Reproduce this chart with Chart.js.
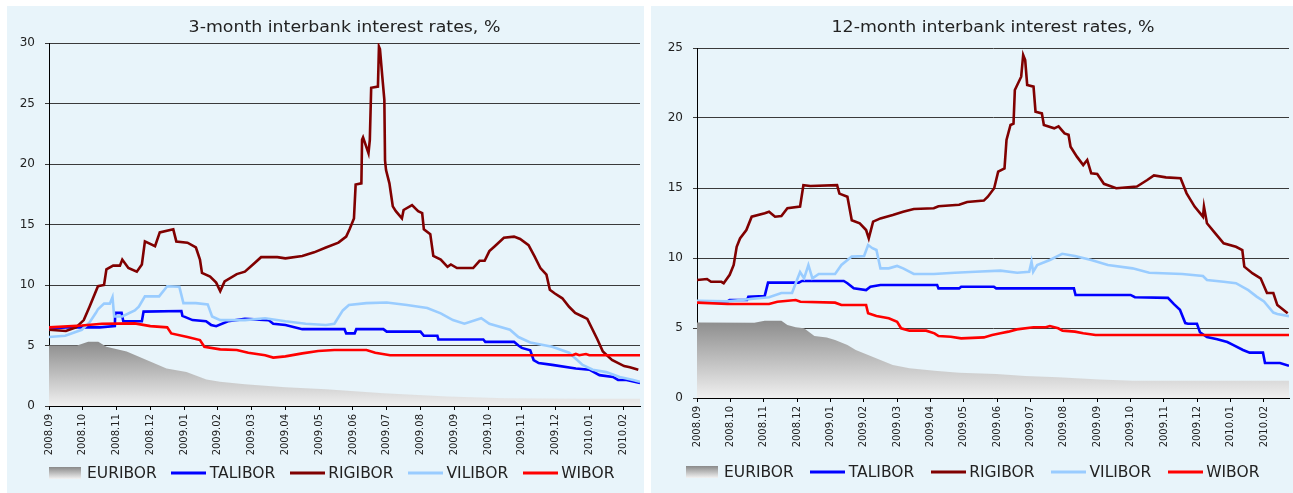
<!DOCTYPE html>
<html>
<head>
<meta charset="utf-8">
<script src="https://cdn.jsdelivr.net/npm/chart.js@4.4.1/dist/chart.umd.min.js"></script>
<style>
  body { margin: 0; background: #fff; width: 1293px; height: 493px; position: relative; overflow: hidden; }
  .panel { position: absolute; top: 6px; height: 487px; background: #e8f4fa; }
  #p1 { left: 7px; width: 637px; }
  #p2 { left: 651px; width: 642px; }
  canvas { display: block; }
  .legend { position: absolute; height: 20px; display: flex; align-items: center; white-space: nowrap;
            font: 15.5px "DejaVu Sans"; color: #222; }
  .legend .item { display: flex; align-items: center; }
</style>
</head>
<body>
<div class="panel" id="p1"><canvas id="rates3m" width="637" height="487"></canvas></div>
<div class="panel" id="p2"><canvas id="rates12m" width="642" height="487"></canvas></div>
<script>
// x axis tick labels (month index 0 = 2008.09)
const months = ["2008.09", "2008.10", "2008.11", "2008.12", "2009.01", "2009.02", "2009.03", "2009.04", "2009.05",
  "2009.06", "2009.07", "2009.08", "2009.09", "2009.10", "2009.11", "2009.12", "2010.01", "2010.02"];
const seriesNames = ["EURIBOR", "TALIBOR", "RIGIBOR", "VILIBOR", "WIBOR"];
const seriesColors = [null, "#0000ff", "#800000", "#99ccff", "#ff0000"];

// 3-month rates, [months since 2008.09, %]
const euribor3m = [[0, 5.0], [0.83, 5.0], [1.16, 5.3], [1.46, 5.3], [1.7, 4.9], [2.3, 4.5], [2.89, 3.8], [3.48, 3.1],
  [4.07, 2.8], [4.66, 2.2], [5.06, 2.0], [5.8, 1.8], [7.0, 1.55], [8.2, 1.38], [9.9, 1.05], [11.8, 0.78], [13.5, 0.65],
  [15.7, 0.6], [17.5, 0.6]];
const talibor3m = [[0, 6.4], [0.5, 6.5], [1.5, 6.5], [1.95, 6.6], [1.96, 7.7], [2.15, 7.7], [2.2, 7.0], [2.75, 7.0],
  [2.8, 7.8], [3.92, 7.85], [3.95, 7.45], [4.25, 7.1], [4.65, 7.0], [4.8, 6.7], [4.95, 6.6], [5.3, 7.0], [5.8, 7.2],
  [6.5, 7.1], [6.64, 6.8], [7.0, 6.7], [7.5, 6.35], [8.75, 6.35], [8.8, 6.0], [9.05, 6.0], [9.1, 6.35], [9.9, 6.35],
  [10.0, 6.15], [11.0, 6.15], [11.1, 5.8], [11.5, 5.8], [11.53, 5.5], [12.86, 5.5], [12.92, 5.3], [13.77, 5.3],
  [13.9, 5.0], [14.0, 4.8], [14.25, 4.6], [14.35, 3.8], [14.5, 3.55], [14.9, 3.4], [15.6, 3.1], [16.0, 3.0],
  [16.3, 2.55], [16.7, 2.4], [16.85, 2.15], [17.1, 2.15], [17.5, 1.9]];
const rigibor3m = [[0, 6.3], [0.5, 6.2], [0.8, 6.5], [1.03, 7.1], [1.2, 8.2], [1.45, 9.9], [1.63, 10.0], [1.7, 11.3],
  [1.9, 11.6], [2.1, 11.6], [2.17, 12.1], [2.35, 11.4], [2.6, 11.1], [2.75, 11.7], [2.84, 13.6], [3.14, 13.2],
  [3.28, 14.35], [3.68, 14.6], [3.77, 13.6], [4.1, 13.5], [4.35, 13.1], [4.47, 12.1], [4.53, 11.0], [4.77, 10.7],
  [4.95, 10.2], [5.07, 9.5], [5.2, 10.3], [5.56, 10.9], [5.8, 11.1], [6.04, 11.7], [6.28, 12.3], [6.76, 12.3],
  [7.0, 12.2], [7.5, 12.4], [7.85, 12.7], [8.2, 13.1], [8.57, 13.5], [8.8, 14.0], [8.9, 14.6], [9.03, 15.5],
  [9.08, 18.3], [9.25, 18.4], [9.27, 22.0], [9.3, 22.2], [9.46, 20.9], [9.5, 22.0], [9.54, 26.3], [9.74, 26.4],
  [9.77, 29.7], [9.8, 29.5], [9.87, 27.2], [9.93, 25.3], [9.95, 20.3], [9.98, 19.5], [10.08, 18.4], [10.18, 16.5],
  [10.27, 16.1], [10.45, 15.5], [10.5, 16.2], [10.75, 16.6], [10.93, 16.1], [11.05, 15.95], [11.1, 14.6],
  [11.29, 14.2], [11.38, 12.4], [11.6, 12.1], [11.8, 11.5], [11.9, 11.7], [12.08, 11.4], [12.56, 11.4], [12.75, 12.0],
  [12.9, 12.0], [13.04, 12.8], [13.2, 13.2], [13.47, 13.9], [13.77, 14.0], [13.95, 13.8], [14.2, 13.3], [14.37, 12.4],
  [14.55, 11.4], [14.73, 10.85], [14.83, 9.6], [14.98, 9.3], [15.2, 8.9], [15.4, 8.2], [15.58, 7.7], [15.8, 7.4],
  [15.94, 7.2], [16.24, 5.5], [16.4, 4.5], [16.67, 3.8], [17.03, 3.3], [17.2, 3.2], [17.45, 3.0]];
const vilibor3m = [[0, 5.7], [0.48, 5.8], [0.97, 6.3], [1.2, 6.9], [1.39, 7.7], [1.45, 8.0], [1.63, 8.46], [1.8, 8.46],
  [1.88, 9.0], [1.93, 7.4], [2.17, 7.4], [2.54, 7.9], [2.66, 8.2], [2.84, 9.06], [3.26, 9.06], [3.5, 9.9], [3.86, 9.85],
  [3.98, 8.5], [4.35, 8.5], [4.7, 8.4], [4.83, 7.4], [5.07, 7.1], [5.8, 7.1], [6.4, 7.25], [7.0, 7.0], [7.6, 6.8],
  [8.2, 6.7], [8.45, 6.8], [8.7, 7.9], [8.88, 8.35], [9.4, 8.5], [10.0, 8.55], [10.6, 8.35], [11.2, 8.1], [11.6, 7.66],
  [11.96, 7.1], [12.3, 6.8], [12.8, 7.25], [13.04, 6.8], [13.65, 6.3], [13.9, 5.7], [14.25, 5.25], [14.9, 4.9],
  [15.4, 4.4], [15.8, 3.4], [16.1, 3.0], [16.5, 2.8], [16.9, 2.4], [17.3, 2.15], [17.5, 2.0]];
const wibor3m = [[0, 6.5], [0.97, 6.65], [1.57, 6.8], [2.54, 6.83], [3.0, 6.6], [3.5, 6.5], [3.62, 6.0], [4.1, 5.7],
  [4.47, 5.45], [4.6, 4.9], [5.07, 4.68], [5.56, 4.63], [5.9, 4.4], [6.4, 4.2], [6.64, 4.0], [7.0, 4.1], [7.5, 4.35],
  [7.97, 4.55], [8.45, 4.63], [9.4, 4.63], [9.66, 4.4], [10.1, 4.2], [15.5, 4.2], [15.6, 4.3], [15.7, 4.2],
  [15.9, 4.3], [16.0, 4.2], [17.5, 4.2]];

// 12-month rates, [months since 2008.09, %]
const euribor12m = [[0, 5.4], [1.72, 5.38], [2.03, 5.52], [2.53, 5.52], [2.71, 5.21], [2.96, 5.05], [3.21, 4.98],
  [3.52, 4.43], [3.89, 4.33], [4.14, 4.14], [4.51, 3.79], [4.76, 3.43], [5.13, 3.07], [5.5, 2.71], [5.87, 2.36],
  [6.37, 2.12], [7.12, 1.95], [7.86, 1.81], [8.97, 1.71], [9.84, 1.57], [10.83, 1.48], [12.07, 1.33], [13.06, 1.24],
  [17.75, 1.24]];
const talibor12m = [[0, 6.9], [0.92, 6.9], [0.98, 7.0], [1.5, 7.0], [1.54, 7.24], [2.03, 7.29], [2.13, 8.24],
  [3.05, 8.24], [3.15, 8.36], [4.4, 8.36], [4.51, 8.2], [4.7, 7.83], [5.07, 7.71], [5.2, 7.95], [5.5, 8.07],
  [7.2, 8.07], [7.24, 7.83], [7.86, 7.83], [7.92, 7.95], [8.9, 7.95], [8.97, 7.83], [11.3, 7.83], [11.35, 7.36],
  [13.0, 7.36], [13.13, 7.2], [14.12, 7.15], [14.3, 6.7], [14.48, 6.3], [14.64, 5.35], [14.72, 5.3], [14.99, 5.3],
  [15.08, 4.7], [15.29, 4.35], [15.6, 4.2], [15.9, 4.0], [16.07, 3.8], [16.37, 3.43], [16.57, 3.24], [16.97, 3.24],
  [17.03, 2.5], [17.48, 2.5], [17.75, 2.3]];
const rigibor12m = [[0, 8.43], [0.3, 8.5], [0.42, 8.3], [0.73, 8.3], [0.8, 8.2], [0.98, 8.8], [1.1, 9.5], [1.19, 10.8],
  [1.29, 11.4], [1.48, 12.0], [1.64, 12.95], [2.03, 13.2], [2.16, 13.3], [2.34, 12.95], [2.53, 13.0], [2.71, 13.55],
  [3.09, 13.67], [3.19, 15.2], [3.4, 15.14], [4.2, 15.2], [4.27, 14.6], [4.51, 14.38], [4.64, 12.7], [4.88, 12.48],
  [5.07, 12.0], [5.15, 11.4], [5.28, 12.6], [5.5, 12.83], [5.87, 13.07], [6.18, 13.3], [6.5, 13.5], [7.1, 13.55],
  [7.24, 13.7], [7.86, 13.8], [8.1, 14.0], [8.6, 14.1], [8.72, 14.38], [8.91, 14.98], [9.03, 16.17], [9.22, 16.4],
  [9.28, 18.43], [9.4, 19.5], [9.49, 19.6], [9.53, 22.0], [9.72, 22.95], [9.78, 24.5], [9.84, 24.14], [9.9, 22.36],
  [10.09, 22.24], [10.15, 20.45], [10.34, 20.33], [10.4, 19.5], [10.71, 19.26], [10.84, 19.4], [11.02, 18.9],
  [11.14, 18.8], [11.2, 17.95], [11.39, 17.24], [11.58, 16.64], [11.7, 17.0], [11.82, 16.05], [12.0, 16.0],
  [12.2, 15.3], [12.57, 14.98], [13.19, 15.1], [13.5, 15.57], [13.7, 15.9], [14.06, 15.76], [14.5, 15.7],
  [14.68, 14.62], [14.92, 13.67], [15.17, 12.95], [15.2, 13.67], [15.29, 12.48], [15.54, 11.76], [15.79, 11.05],
  [16.16, 10.8], [16.35, 10.57], [16.41, 9.38], [16.66, 8.9], [16.9, 8.55], [17.09, 7.5], [17.28, 7.5], [17.4, 6.64],
  [17.71, 6.05]];
const vilibor12m = [[0, 6.95], [0.92, 6.9], [1.54, 7.05], [2.16, 7.2], [2.53, 7.5], [2.85, 7.5], [2.96, 8.2],
  [3.09, 9.0], [3.21, 8.55], [3.34, 9.5], [3.46, 8.55], [3.65, 8.86], [4.14, 8.86], [4.33, 9.5], [4.64, 10.1],
  [5.01, 10.14], [5.13, 10.93], [5.26, 10.7], [5.38, 10.57], [5.5, 9.26], [5.75, 9.26], [6.0, 9.43], [6.18, 9.26],
  [6.5, 8.86], [7.1, 8.86], [7.73, 8.95], [8.35, 9.02], [9.1, 9.1], [9.6, 8.95], [9.96, 9.02], [10.03, 9.74],
  [10.08, 9.02], [10.2, 9.5], [10.58, 9.86], [10.95, 10.3], [11.33, 10.14], [11.82, 9.86], [12.32, 9.5],
  [13.06, 9.26], [13.56, 8.95], [14.55, 8.86], [15.17, 8.71], [15.29, 8.43], [15.79, 8.3], [16.16, 8.2],
  [16.53, 7.7], [16.78, 7.24], [17.0, 6.9], [17.28, 6.1], [17.4, 6.0], [17.75, 5.85]];
const wibor12m = [[0, 6.81], [0.92, 6.71], [2.16, 6.71], [2.41, 6.88], [2.96, 7.0], [3.1, 6.88], [4.14, 6.81],
  [4.33, 6.64], [5.07, 6.64], [5.13, 6.05], [5.38, 5.86], [5.75, 5.69], [6.0, 5.45], [6.12, 4.98], [6.37, 4.81],
  [6.87, 4.81], [7.12, 4.62], [7.24, 4.43], [7.61, 4.38], [7.92, 4.26], [8.6, 4.33], [8.85, 4.5], [9.1, 4.62],
  [9.34, 4.74], [9.59, 4.9], [10.09, 5.05], [10.46, 5.05], [10.58, 5.14], [10.83, 4.98], [10.96, 4.81],
  [11.33, 4.74], [11.58, 4.62], [11.95, 4.5], [17.75, 4.5]];

const FONT = "DejaVu Sans";

// Title centred over the plot area, a bit wider than the plain font like the original
const plotTitle = {
    id: "plotTitle",
    afterDraw(chart, args, opts) {
        const { ctx, chartArea } = chart;
        ctx.save();
        ctx.font = `15.5px "${FONT}"`;
        ctx.fillStyle = "#222";
        ctx.textAlign = "center";
        ctx.textBaseline = "middle";
        ctx.translate((chartArea.left + chartArea.right) / 2, opts.y);
        ctx.scale(1.12, 1);
        ctx.fillText(opts.text, 0, 0);
        ctx.restore();
    }
};

// Legend swatches: grey gradient box for the area, short thick line for the others
function makeSwatch(color) {
    const c = document.createElement("canvas");
    c.width = color ? 35 : 32;
    c.height = 12;
    const g = c.getContext("2d");
    if (!color) {
        const grad = g.createLinearGradient(0, 0, 0, 12);
        grad.addColorStop(0, "#898989");
        grad.addColorStop(1, "#f2f2f2");
        g.fillStyle = grad;
        g.fillRect(0, 0, 32, 12);
    } else {
        g.fillStyle = color;
        g.fillRect(0, 4.5, 35, 3);
    }
    return c;
}

function buildLegend(panelId, cfg) {
    const box = document.createElement("div");
    box.className = "legend";
    box.style.left = cfg.left + "px";
    box.style.top = cfg.top + "px";
    seriesNames.forEach((name, i) => {
        const item = document.createElement("div");
        item.className = "item";
        if (i > 0) item.style.marginLeft = cfg.gap + "px";
        const sw = makeSwatch(seriesColors[i]);
        sw.style.marginRight = (i === 0 ? 6 : 3.5) + "px";
        const label = document.createElement("span");
        label.textContent = name;
        item.appendChild(sw);
        item.appendChild(label);
        box.appendChild(item);
    });
    document.getElementById(panelId).appendChild(box);
}

function areaGradient(context, values) {
    const chart = context.chart;
    if (!chart.chartArea) return "#aaaaaa";
    const y = chart.scales.y;
    const top = y.getPixelForValue(Math.max(...values.map(p => p[1])));
    const grad = chart.ctx.createLinearGradient(0, top, 0, y.getPixelForValue(0));
    grad.addColorStop(0, "#8c8c8c");
    grad.addColorStop(1, "#f0f0f0");
    return grad;
}

function buildChart(id, cfg) {
    const all = cfg.series;
    const datasets = all.map((values, i) => {
        const base = {
            label: seriesNames[i],
            data: values.map(([x, y]) => ({ x, y })),
            pointRadius: 0,
            order: all.length - i
        };
        if (i === 0) {
            return Object.assign(base, {
                borderWidth: 0,
                borderColor: "rgba(0,0,0,0)",
                fill: "origin",
                backgroundColor: ctx => areaGradient(ctx, values)
            });
        }
        return Object.assign(base, {
            borderColor: seriesColors[i],
            backgroundColor: seriesColors[i],
            borderWidth: 2.6,
            fill: false
        });
    });

    return new Chart(document.getElementById(id), {
        type: "line",
        data: { datasets },
        plugins: [plotTitle],
        options: {
            responsive: false,
            animation: false,
            devicePixelRatio: 1,
            layout: { padding: cfg.padding },
            scales: {
                x: {
                    type: "linear",
                    min: 0,
                    max: cfg.xMax,
                    afterBuildTicks: s => { s.ticks = months.map((m, i) => ({ value: i })); },
                    afterFit: s => { s.height = cfg.xHeight; s.paddingLeft = 0; s.paddingRight = 0; },
                    grid: { drawOnChartArea: false, drawTicks: true, tickLength: 4, color: "#000" },
                    border: { color: "#000", width: 1 },
                    ticks: {
                        autoSkip: false,
                        minRotation: 90,
                        maxRotation: 90,
                        padding: 4,
                        color: "#222",
                        font: { family: FONT, size: 10 },
                        callback: (v, i) => months[i]
                    }
                },
                y: {
                    min: 0,
                    max: cfg.yMax,
                    afterFit: s => { s.width = cfg.yWidth; s.paddingTop = 0; s.paddingBottom = 0; },
                    grid: { color: "#3a3a3a", tickLength: 4 },
                    border: { color: "#000", width: 1 },
                    ticks: { stepSize: 5, padding: 10, color: "#222", font: { family: FONT, size: 12 } }
                }
            },
            plugins: {
                plotTitle: { text: cfg.title, y: cfg.titleY },
                tooltip: { enabled: false },
                legend: { display: false }
            }
        }
    });
}

buildChart("rates3m", {
    title: "3-month interbank interest rates, %",
    titleY: 21.5,
    series: [euribor3m, talibor3m, rigibor3m, vilibor3m, wibor3m],
    xMax: 17.5,
    yMax: 30,
    padding: { left: 0, right: 4, top: 37, bottom: 27 },
    yWidth: 42,
    xHeight: 60
});
buildLegend("p1", { left: 42, top: 457, gap: 14.5 });

buildChart("rates12m", {
    title: "12-month interbank interest rates, %",
    titleY: 22,
    series: [euribor12m, talibor12m, rigibor12m, vilibor12m, wibor12m],
    xMax: 17.75,
    yMax: 25,
    padding: { left: 0, right: 4, top: 42, bottom: 35 },
    yWidth: 46,
    xHeight: 60
});
buildLegend("p2", { left: 35, top: 456, gap: 16.5 });
</script>
</body>
</html>
